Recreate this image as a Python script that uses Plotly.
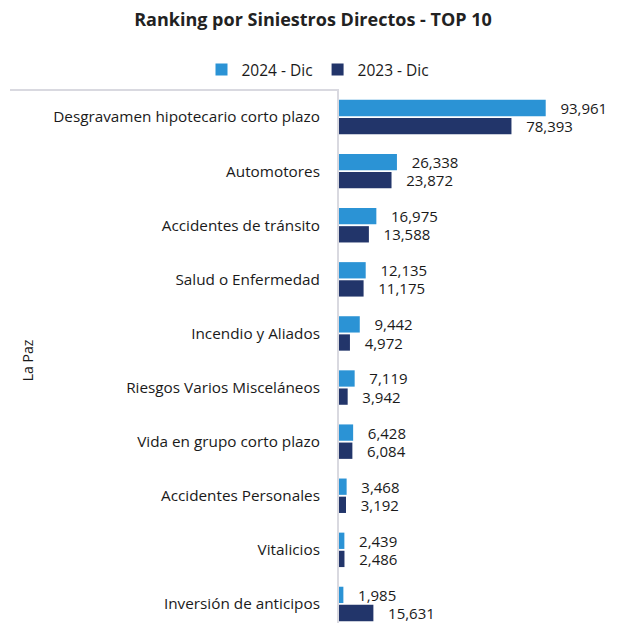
import plotly.graph_objects as go

categories = [
    "Desgravamen hipotecario corto plazo",
    "Automotores",
    "Accidentes de tránsito",
    "Salud o Enfermedad",
    "Incendio y Aliados",
    "Riesgos Varios Misceláneos",
    "Vida en grupo corto plazo",
    "Accidentes Personales",
    "Vitalicios",
    "Inversión de anticipos",
]
values_2024 = [93961, 26338, 16975, 12135, 9442, 7119, 6428, 3468, 2439, 1985]
values_2023 = [78393, 23872, 13588, 11175, 4972, 3942, 6084, 3192, 2486, 15631]
series_names = ["2024 - Dic", "2023 - Dic"]
colors = ["#2B93D5", "#22356A"]

W, H = 603, 640
L, T, B = 331, 82, 17
PW = 264

fig = go.Figure()
for name, vals, col in zip(series_names, [values_2024, values_2023], colors):
    fig.add_trace(go.Bar(
        y=categories, x=vals, orientation="h", name=name,
        marker=dict(color=col, line=dict(width=0)),
        texttemplate="   %{x:,}", textposition="outside",
        textfont=dict(size=15, color="#1a1a1a"),
        constraintext="none",
        cliponaxis=False,
    ))

fig.update_layout(
    width=W, height=H,
    margin=dict(l=L, r=W - L - PW, t=T, b=B),
    paper_bgcolor="white", plot_bgcolor="white",
    font=dict(family="Open Sans", size=15.3, color="#1a1a1a"),
    title=dict(text="<b>Ranking por Siniestros Directos - TOP 10</b>",
               x=305 / W, xanchor="center", y=1 - 12 / H, yanchor="middle",
               font=dict(size=18, color="#222222")),
    barmode="group", bargap=0.33, bargroupgap=0.1,
    showlegend=True,
    legend=dict(orientation="h", x=(310 - L) / PW, xanchor="center", y=1.037, yanchor="middle",
                font=dict(size=15.5), itemwidth=30, traceorder="normal"),
    xaxis=dict(range=[0, 120000], visible=False, showgrid=False, zeroline=False),
    yaxis=dict(autorange="reversed", showline=True, linecolor="#d9d9e0", linewidth=2,
               ticks="", ticklabelstandoff=14, showgrid=False,
               title=dict(text="La Paz", font=dict(size=14), standoff=16)),
    shapes=[dict(type="line", xref="paper", yref="paper", x0=(2 - L) / PW, x1=0, y0=1, y1=1,
                 line=dict(color="#d9d9e0", width=2))],
)
fig.write_html("out.html")
